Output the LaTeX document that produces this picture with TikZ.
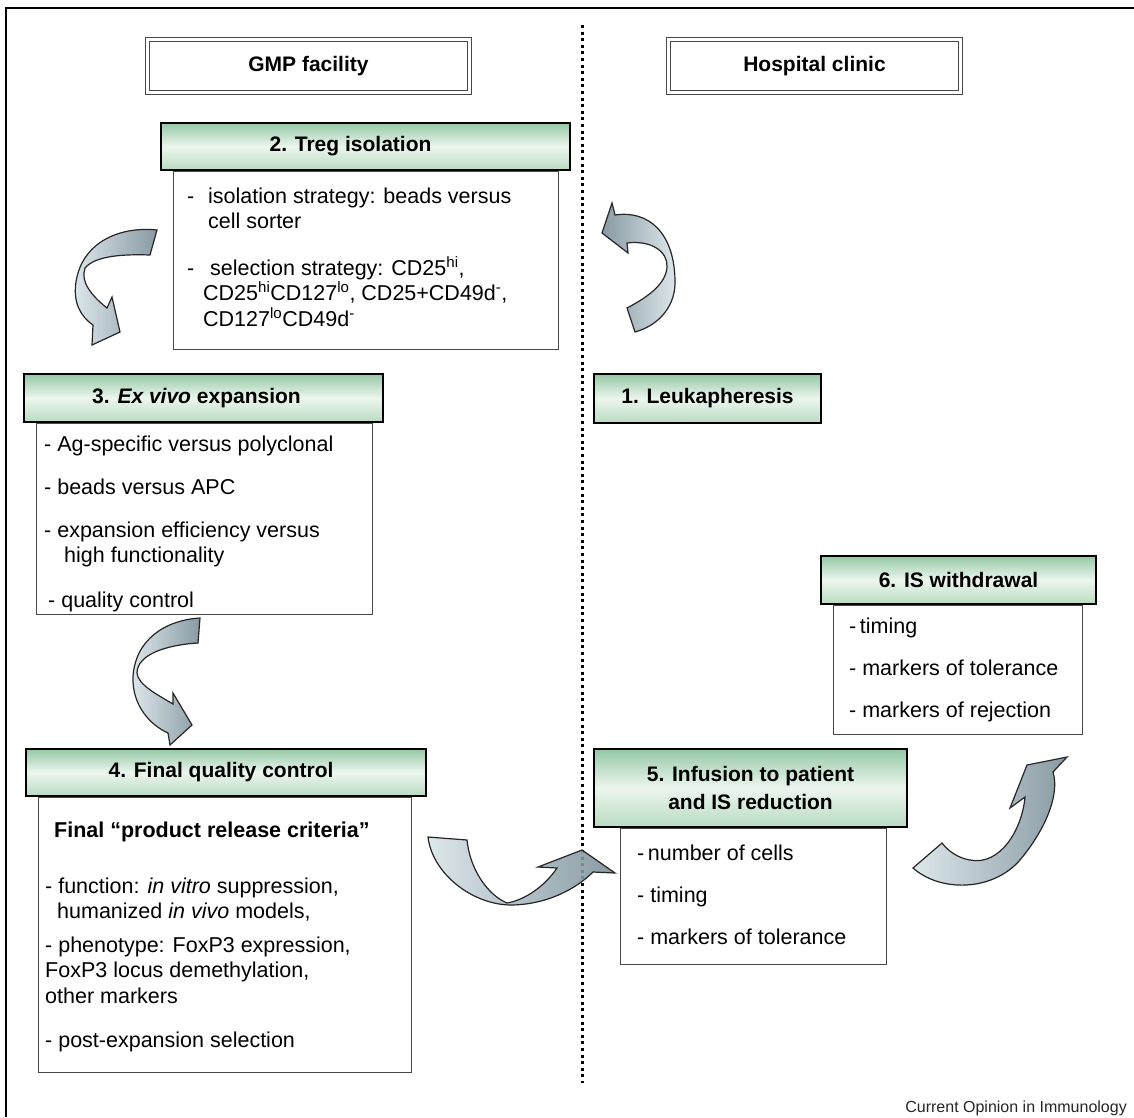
\documentclass[tikz,border=0pt]{standalone}
\usepackage{fontspec}
\setmainfont{Liberation Sans}

\definecolor{hdrtop}{RGB}{150,200,166}
\definecolor{hdrmid}{RGB}{236,246,238}
\definecolor{hdrbot}{RGB}{186,219,194}
\definecolor{arrowlight}{RGB}{216,228,232}
\definecolor{arrowdark}{RGB}{120,140,150}
\definecolor{boxline}{RGB}{72,72,72}

\begin{document}
\begin{tikzpicture}[x=1pt, y=-1pt,
    facility/.style={draw=boxline, double, double distance=3pt, line width=1.2pt, inner sep=0pt,
        font=\fontsize{21}{26}\selectfont\bfseries},
    stephead/.style={draw=black, line width=2.4pt, inner sep=0pt,
        top color=hdrtop, bottom color=hdrbot, middle color=hdrmid,
        font=\fontsize{21}{28}\selectfont\bfseries},
    stepbody/.style={draw=boxline, line width=1.2pt, fill=white, inner sep=0pt},
    item/.style={anchor=base west, inner sep=0pt, align=left, font=\fontsize{21.5}{25.5}\selectfont},
    bigarrow/.style={draw=black!85, line width=1.2pt, fill opacity=0.88,
        left color=arrowlight, right color=arrowdark}]

    \useasboundingbox (0,0) rectangle (1134,1117);

    % frame and divider
    \draw [line width=2.4pt] (6,1117) -- (6,8) -- (1134,8);
    \draw [line width=3pt, dash pattern=on 3pt off 3.6pt] (582,25) -- (582,1083);

    % sites
    \node [facility, minimum width=321.6pt, minimum height=52.6pt] (gmp) at (308.5,66) {GMP facility};
    \node [facility, minimum width=291.6pt, minimum height=52.6pt] (clinic) at (814.5,66) {Hospital clinic};

    % step bodies
    \node [stepbody, minimum width=384.8pt, minimum height=177.8pt] (isolbody) at (366,260.5) {};
    \node [stepbody, minimum width=335.8pt, minimum height=190.8pt] (expbody) at (204.5,519) {};
    \node [stepbody, minimum width=372.8pt, minimum height=274.8pt] (qcbody) at (225,935) {};
    \node [stepbody, minimum width=248.8pt, minimum height=128.8pt] (withbody) at (958,670) {};
    \node [stepbody, minimum width=265.8pt, minimum height=135.8pt] (infbody) at (753.5,896.5) {};

    % step headers
    \node [stephead, minimum width=226.6pt, minimum height=48.6pt] (leuka) at (707.5,398.5) {1. Leukapheresis};
    \node [stephead, minimum width=408.6pt, minimum height=46.6pt] (isol) at (365.5,146.5) {2. Treg isolation\kern30pt};
    \node [stephead, minimum width=358.6pt, minimum height=47.6pt] (exp) at (203.5,398) {3. \textit{Ex vivo} expansion\kern14pt};
    \node [stephead, minimum width=399.6pt, minimum height=46.6pt] (qc) at (226,772.5) {4. Final quality control\kern10pt};
    \node [stephead, align=center, minimum width=312.6pt, minimum height=77.6pt] (inf) at (750.5,788) {5. Infusion to patient\\and IS reduction};
    \node [stephead, minimum width=274.6pt, minimum height=47.6pt] (withdr) at (958.5,580) {6. IS withdrawal};

    % step 2 items
    \node [item] (isostrat) at (187,228.5) {\makebox[21pt][l]{-}isolation strategy: beads versus\\\hspace*{21pt}cell sorter};
    \node [item] (selstrat) at (187,326) {\makebox[23pt][l]{-}selection strategy: CD25\textsuperscript{hi},\\\hspace*{16pt}CD25\textsuperscript{hi}CD127\textsuperscript{lo}, CD25+CD49d\textsuperscript{-},\\\hspace*{16pt}CD127\textsuperscript{lo}CD49d\textsuperscript{-}};

    % step 3 items
    \node [item] (agspec) at (44,451) {- Ag-specific versus polyclonal};
    \node [item] (beads) at (44,494) {- beads versus APC};
    \node [item] (effic) at (44,562.5) {- expansion efficiency versus\\\hspace*{20pt}high functionality};
    \node [item] (qcitem) at (48,607) {- quality control};

    % step 4 items
    \node [item, font=\fontsize{21.5}{25.5}\selectfont\bfseries] (release) at (54,837) {Final “product release criteria”};
    \node [item] (func) at (45,918.5) {- function: \textit{in vitro} suppression,\\\hspace*{12pt}humanized \textit{in vivo} models,};
    \node [item] (pheno) at (45,1003) {- phenotype: FoxP3 expression,\\FoxP3 locus demethylation,\\other markers};
    \node [item] (postexp) at (45,1047) {- post-expansion selection};

    % step 5 items
    \node [item] (cells) at (637,860) {-\,number of cells};
    \node [item] (inftiming) at (637,902) {- timing};
    \node [item] (inftol) at (637,944) {- markers of tolerance};

    % step 6 items
    \node [item] (wtiming) at (849,633) {-\,timing};
    \node [item] (wtol) at (849,675) {- markers of tolerance};
    \node [item] (wrej) at (849,717) {- markers of rejection};

    % curved block arrows
    \draw [bigarrow, left color=arrowdark, right color=arrowlight] (627,308) .. controls (650,296) and (666,283) .. (667,267)
        .. controls (668,252) and (652,240) .. (627,243) -- (628,253) -- (602,233) -- (612,203) -- (615,215)
        .. controls (648,210) and (674,232) .. (675,280) .. controls (676,305) and (660,325) .. (635,332) -- cycle;
    \draw [bigarrow] (157,230) .. controls (120,226) and (82,242) .. (76,282)
        .. controls (73,302) and (80,316) .. (93,325) -- (92,345) -- (120,332) -- (112,297) -- (107,308)
        .. controls (92,296) and (80,282) .. (85,268) .. controls (95,256) and (122,254) .. (150,255) -- cycle;
    \draw [bigarrow] (200,618) .. controls (165,620) and (135,640) .. (133,677)
        .. controls (132,705) and (150,725) .. (168,733) -- (170,745) -- (192,725) -- (173,693) -- (173,704)
        .. controls (158,695) and (138,685) .. (137,673) .. controls (137,655) and (165,645) .. (198,643) -- cycle;
    \draw [bigarrow] (428,837) .. controls (432,872) and (470,904) .. (510,905)
        .. controls (545,905) and (575,890) .. (593,872) -- (615,873) -- (582,850) -- (538,867) -- (557,868)
        .. controls (545,886) and (525,900) .. (507,903) .. controls (488,895) and (470,870) .. (467,840) -- cycle;
    \draw [bigarrow] (913,868) .. controls (940,892) and (992,892) .. (1020,860)
        .. controls (1045,830) and (1060,795) .. (1053,772) -- (1067,757) -- (1027,765) -- (1010,808) -- (1025,797)
        .. controls (1022,830) and (1000,866) .. (970,860) .. controls (958,858) and (948,851) .. (942,843) -- cycle;

    % source
    \node [anchor=base east, inner sep=0pt, font=\fontsize{16}{19}\selectfont, text=black!85] (journal) at (1127,1112) {Current Opinion in Immunology};
\end{tikzpicture}
\end{document}
